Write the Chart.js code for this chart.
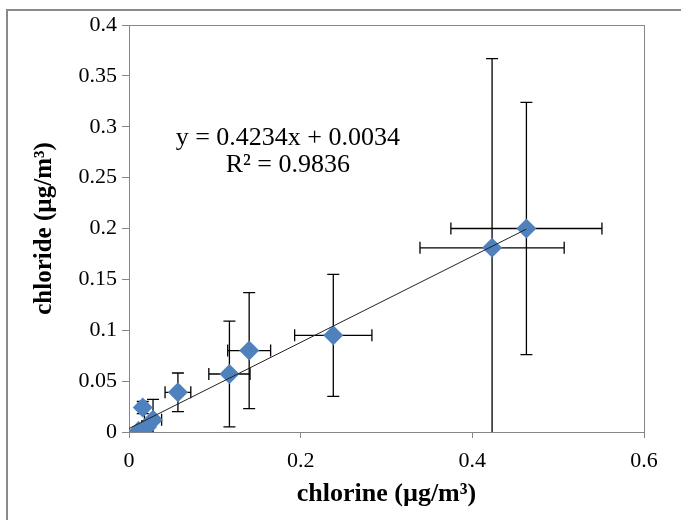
<!DOCTYPE html>
<html>
<head>
<meta charset="utf-8">
<script src="https://cdn.jsdelivr.net/npm/chart.js@4/dist/chart.umd.min.js"></script>
<style>
  html, body { margin: 0; padding: 0; background: #fff; }
  #wrap { width: 681px; height: 520px; }
</style>
</head>
<body>
<div id="wrap"><canvas id="chart" width="681" height="520"></canvas></div>
<script>
// chlorine (x) vs chloride (y)
const xVals = [0.463, 0.423, 0.238, 0.140, 0.117, 0.057, 0.016, 0.028, 0.021, 0.011];
const yVals = [0.200, 0.181, 0.095, 0.080, 0.057, 0.039, 0.024, 0.012, 0.005, 0.001];
const xErr  = [0.088, 0.084, 0.045, 0.025, 0.024, 0.015, 0.004, 0.010, 0.006, 0.004];
const yErr  = [0.124, 0.186, 0.060, 0.057, 0.052, 0.019, 0.006, 0.020, 0.006, 0.004];

// linear trendline ends (y = 0.4234x + 0.0034)
const trendX = [0, 0.463];
const trendY = [0.0034, 0.1994];
const equationLines = ['y = 0.4234x + 0.0034', 'R² = 0.9836'];

const xTitle = 'chlorine (µg/m³)';
const yTitle = 'chloride (µg/m³)';

const serif = "'Liberation Serif', 'Times New Roman', serif";
const axisGray = '#868686';

const points = xVals.map((x, i) => ({ x: x, y: yVals[i] }));
const trendPoints = trendX.map((x, i) => ({ x: x, y: trendY[i] }));

// white background + outer frame of the picture
const framePlugin = {
  id: 'frame',
  beforeDraw(chart) {
    const ctx = chart.ctx;
    ctx.save();
    ctx.fillStyle = '#fff';
    ctx.fillRect(0, 0, chart.width, chart.height);
    ctx.strokeStyle = '#8a8a8a';
    ctx.lineWidth = 2;
    ctx.beginPath();
    ctx.moveTo(7, chart.height);
    ctx.lineTo(7, 10);
    ctx.lineTo(chart.width, 10);
    ctx.stroke();
    ctx.restore();
  }
};

// box around the plot area and the x/y error bars
const errorBarPlugin = {
  id: 'errorBars',
  beforeDatasetsDraw(chart) {
    const ctx = chart.ctx;
    const area = chart.chartArea;
    const xs = chart.scales.x;
    const ys = chart.scales.y;

    ctx.save();
    ctx.strokeStyle = axisGray;
    ctx.lineWidth = 1;
    ctx.strokeRect(Math.round(area.left) + 0.5, Math.round(area.top) + 0.5,
      Math.round(area.right - area.left), Math.round(area.bottom - area.top));
    ctx.restore();

    ctx.save();
    ctx.beginPath();
    ctx.rect(area.left, area.top, area.right - area.left, area.bottom - area.top);
    ctx.clip();
    ctx.strokeStyle = '#000';
    ctx.lineWidth = 1.3;
    const cap = 6;
    xVals.forEach((x, i) => {
      const px = xs.getPixelForValue(x);
      const py = ys.getPixelForValue(yVals[i]);
      const yTop = ys.getPixelForValue(yVals[i] + yErr[i]);
      const yBot = ys.getPixelForValue(yVals[i] - yErr[i]);
      const xLeft = xs.getPixelForValue(x - xErr[i]);
      const xRight = xs.getPixelForValue(x + xErr[i]);
      ctx.beginPath();
      ctx.moveTo(px, yTop); ctx.lineTo(px, yBot);
      ctx.moveTo(px - cap, yTop); ctx.lineTo(px + cap, yTop);
      ctx.moveTo(px - cap, yBot); ctx.lineTo(px + cap, yBot);
      ctx.moveTo(xLeft, py); ctx.lineTo(xRight, py);
      ctx.moveTo(xLeft, py - cap); ctx.lineTo(xLeft, py + cap);
      ctx.moveTo(xRight, py - cap); ctx.lineTo(xRight, py + cap);
      ctx.stroke();
    });
    ctx.restore();
  },
  afterDatasetsDraw(chart) {
    // trendline equation label
    const ctx = chart.ctx;
    const xs = chart.scales.x;
    const ys = chart.scales.y;
    ctx.save();
    ctx.fillStyle = '#000';
    ctx.font = '26px ' + serif;
    ctx.textAlign = 'center';
    ctx.textBaseline = 'middle';
    const cx = xs.getPixelForValue(0.185);
    ctx.fillText(equationLines[0], cx, ys.getPixelForValue(0.289));
    ctx.fillText(equationLines[1], cx, ys.getPixelForValue(0.262));
    ctx.restore();
  }
};

const fmt = v => String(Number(v.toFixed(2)));

const ctx = document.getElementById('chart');
const chart = new Chart(ctx, {
  type: 'scatter',
  data: {
    datasets: [
      {
        type: 'line',
        data: trendPoints,
        borderColor: '#222',
        borderWidth: 1,
        pointRadius: 0,
        fill: false,
        order: 0
      },
      {
        data: points,
        backgroundColor: '#4f81bd',
        borderColor: '#4f81bd',
        borderWidth: 0,
        pointStyle: 'rectRot',
        pointRadius: 10,
        pointHoverRadius: 10,
        order: 1
      }
    ]
  },
  options: {
    responsive: false,
    animation: false,
    events: [],
    layout: { padding: { top: 25, right: 37, left: 0, bottom: 0 } },
    plugins: {
      legend: { display: false },
      tooltip: { enabled: false }
    },
    scales: {
      x: {
        type: 'linear',
        min: 0,
        max: 0.6,
        ticks: {
          stepSize: 0.2,
          color: '#000',
          padding: 10,
          font: { family: serif, size: 22 },
          callback: v => fmt(v)
        },
        grid: { drawOnChartArea: false, drawTicks: true, tickLength: 6, color: axisGray },
        border: { display: true, color: axisGray },
        title: {
          display: true,
          text: xTitle,
          color: '#000',
          padding: 10,
          font: { family: serif, size: 26, weight: 'bold' }
        },
        afterFit(scale) { scale.height = 88; }
      },
      y: {
        min: 0,
        max: 0.4,
        ticks: {
          stepSize: 0.05,
          color: '#000',
          padding: 5,
          font: { family: serif, size: 22 },
          callback: v => fmt(v)
        },
        grid: { drawOnChartArea: false, drawTicks: true, tickLength: 7, color: axisGray },
        border: { display: true, color: axisGray },
        title: {
          display: true,
          text: yTitle,
          color: '#000',
          padding: 30,
          font: { family: serif, size: 25, weight: 'bold' }
        },
        afterFit(scale) { scale.width = 129; }
      }
    }
  },
  plugins: [framePlugin, errorBarPlugin]
});
</script>
</body>
</html>
